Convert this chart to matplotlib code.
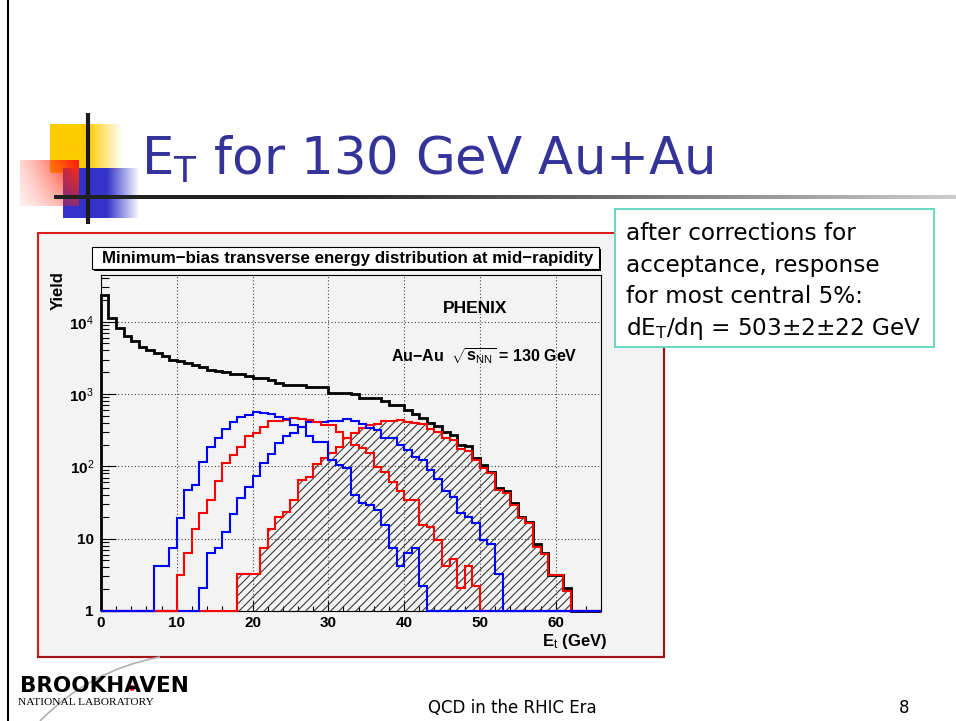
import numpy as np
import matplotlib.pyplot as plt
from matplotlib.patches import Rectangle, Circle, PathPatch
from matplotlib.path import Path
from matplotlib.ticker import MultipleLocator, LogLocator, NullFormatter, FixedLocator

# 1 GeV bins, 0..66 GeV
et_edges = np.arange(0, 67)

total_yield = [23600, 11300, 8200, 6400, 5350, 4450, 4000, 3700, 3350, 3000,
               2830, 2660, 2500, 2360, 2170, 2060, 2000, 1870, 1870, 1770,
               1650, 1650, 1550, 1410, 1330, 1330, 1330, 1240, 1240, 1240,
               1040, 1040, 1040, 1000, 880, 870, 870, 790, 705, 700,
               600, 530, 465, 395, 365, 300, 271, 195, 190, 132,
               104, 84, 50, 46, 31, 19.7, 17, 8.4, 6.3, 3.1,
               3.1, 2.1]

blue_a = [0] * 7 + [4.2, 4.2, 7.3, 19, 47, 56, 114, 187, 249, 325,
                    406, 476, 512, 558, 541, 530, 485, 447, 373, 353,
                    262, 219, 219, 122, 104, 95, 40, 31, 29, 25,
                    15.4, 7.5, 4.2, 6.4, 7.3, 2.2]

red_a = [0] * 10 + [3.1, 6.3, 13.4, 22.8, 34, 63, 110, 143, 187, 262,
                    286, 353, 423, 427, 440, 461, 447, 437, 414, 373,
                    373, 295, 250, 200, 177, 151, 99, 84, 61, 45,
                    34, 34, 15.4, 14.6, 9.6, 4.2, 5.2, 2.05, 4.2, 2.2]

blue_b = [0] * 13 + [2.1, 6.3, 7.3, 12.5, 21.7, 36, 51,
                     73, 112, 148, 208, 262, 290, 350, 414, 414, 414,
                     427, 427, 447, 420, 385, 335, 316, 244, 244, 197,
                     168, 136, 122, 88, 67, 46, 38, 22.8, 20, 16.6,
                     9.6, 8.4, 3.2]

central = [0] * 18 + [3.2, 3.2,
                      3.2, 7.4, 13.4, 20, 23.5, 34, 65, 71, 107, 131,
                      153, 183, 244, 292, 336, 373, 385, 427, 430, 437,
                      410, 393, 385, 330, 295, 244, 231, 172, 165, 122,
                      94, 80, 47, 43, 29, 19, 16.3, 7.7, 6.1, 3.1,
                      3.1, 1.9]

y_ticks = [1, 10, 100, 1000, 10000]
y_labels = ['1', '10', r'$10^{\mathsf{2}}$', r'$10^{\mathsf{3}}$', r'$10^{\mathsf{4}}$']
x_ticks = [0, 10, 20, 30, 40, 50, 60]

note_lines = ['after corrections for', 'acceptance, response',
              'for most central 5%:', r'dE$_{\mathrm{T}}$/dη = 503±2±22 GeV']


def pad(v, n=66):
    return np.clip(np.array(v + [0] * (n - len(v)), dtype=float), 1, None)


plt.rcParams['mathtext.fontset'] = 'custom'
plt.rcParams['mathtext.rm'] = 'Liberation Sans:bold'
plt.rcParams['mathtext.bf'] = 'Liberation Sans:bold'
plt.rcParams['mathtext.it'] = 'Liberation Sans:italic:bold'
plt.rcParams['mathtext.sf'] = 'Liberation Sans'
plt.rcParams['hatch.linewidth'] = 0.8

W, H = 956, 721
fig = plt.figure(figsize=(W / 100, H / 100), dpi=100)


def fx(x, y):
    return x / W, 1 - y / H


# slide background, pixel coordinates
bg = fig.add_axes([0, 0, 1, 1])
bg.set_autoscale_on(False)
bg.set_xlim(0, W)
bg.set_ylim(H, 0)
bg.axis('off')


def gradient(x0, x1, y0, y1, rgb, alpha, z):
    img = np.zeros(alpha.shape + (4,))
    img[..., :3] = rgb
    img[..., 3] = alpha
    bg.imshow(img, extent=(x0, x1, y1, y0), origin='upper', aspect='auto',
              interpolation='bilinear', zorder=z)


# title decoration squares
u = np.linspace(0, 1, 80)
yel = np.tile(np.clip((1 - u) / 0.48, 0, 1), (10, 1))
gradient(50, 123, 124, 173, (1.0, 0.8, 0.0), yel, 1)
blu = np.tile(np.clip((1 - u) / 0.43, 0, 1), (10, 1))
gradient(63, 140, 168, 218, (0.2, 0.2, 0.8), blu, 2)
gx, gy = np.meshgrid(np.linspace(0, 1, 60), np.linspace(0, 1, 50))
red_alpha = np.clip(0.08 + 0.9 * gx ** 1.3 * (1 - 0.55 * gy) + 0.12 * (1 - gy), 0, 1)
gradient(20, 79, 160, 206, (1.0, 0.15, 0.05), red_alpha, 3)

bg.plot([88, 88], [113, 224], color='#1a1a1a', lw=3, zorder=5, solid_capstyle='butt')
line_shade = np.linspace(0, 1, 200)
line_rgb = np.zeros((1, 200, 3))
line_rgb[0, :, :] = (0.13 + 0.67 * np.clip((line_shade - 0.3) / 0.7, 0, 1))[:, None]
bg.imshow(line_rgb, extent=(54, 956, 199, 195.5), aspect='auto', zorder=5)

# slide border
bg.plot([8, 8], [0, H], color='black', lw=1.5, zorder=5)

# title
fig.text(*fx(141, 175), r'E$_{\mathrm{T}}$ for 130 GeV Au+Au', fontsize=37,
         color='#333399', family='DejaVu Sans', math_fontfamily='dejavusans',
         va='baseline', ha='left')

# canvas
bg.add_patch(Rectangle((38, 233), 626, 424, facecolor='#f3f3f3',
                       edgecolor='#dd1a1a', lw=1.5, zorder=4))
bg.plot([664, 664, 38], [233, 657, 657], color='#a51010', lw=1.5, zorder=4)

# histogram title box with shadow
bg.add_patch(Rectangle((94, 249), 507, 22, facecolor='black', zorder=5))
bg.add_patch(Rectangle((92, 247), 507, 22, facecolor='white',
                       edgecolor='black', lw=0.8, zorder=6))
fig.text(*fx(348, 258), 'Minimum−bias transverse energy distribution at mid−rapidity',
         fontsize=12.2, fontweight='bold', family='Liberation Sans',
         ha='center', va='center')

# annotation box
bg.add_patch(Rectangle((615, 209), 319, 138, facecolor='white',
                       edgecolor='#5ad8bc', lw=1.3, zorder=8))
for i, line in enumerate(note_lines):
    fig.text(*fx(626, 240 + i * 31.7), line, fontsize=16.7, family='DejaVu Sans',
             math_fontfamily='dejavusans', va='baseline', ha='left')

# histogram frame
ax = fig.add_axes([100.9 / W, 1 - 610.9 / H, 500.3 / W, 335.9 / H])
ax.set_facecolor('#f3f3f3')
ax.set_yscale('log')
ax.set_xlim(0, 66)
ax.set_ylim(1, 4.43e4)

ax.stairs(pad(central), et_edges, baseline=1, fill=True, facecolor='none',
          edgecolor='#3a3a3a', hatch='////', lw=0, zorder=2)
ax.stairs(pad(total_yield), et_edges, baseline=1, color='black', lw=2.0,
          zorder=3, clip_on=False)
ax.stairs(pad(central), et_edges, baseline=1, color='#ff0000', lw=1.5,
          zorder=4, clip_on=False)
ax.stairs(pad(blue_b), et_edges, baseline=1, color='#0000ff', lw=1.5,
          zorder=5, clip_on=False)
ax.stairs(pad(red_a), et_edges, baseline=1, color='#ff0000', lw=1.5,
          zorder=6, clip_on=False)
ax.stairs(pad(blue_a), et_edges, baseline=1, color='#0000ff', lw=1.5,
          zorder=7, clip_on=False)

ax.xaxis.set_major_locator(FixedLocator(x_ticks))
ax.xaxis.set_minor_locator(MultipleLocator(2))
ax.yaxis.set_major_locator(FixedLocator(y_ticks))
ax.yaxis.set_minor_locator(LogLocator(base=10, subs=np.arange(2, 10)))
ax.yaxis.set_minor_formatter(NullFormatter())
ax.set_xticklabels([str(t) for t in x_ticks])
ax.set_yticklabels(y_labels)
ax.tick_params(which='both', direction='in', top=False, right=False, color='black')
ax.tick_params(axis='x', which='major', length=7, width=0.8, pad=4)
ax.tick_params(axis='x', which='minor', length=3.6, width=0.8)
ax.tick_params(axis='y', which='major', length=11, width=0.8, pad=5)
ax.tick_params(axis='y', which='minor', length=5.5, width=0.8)
for lab in ax.get_xticklabels() + ax.get_yticklabels():
    lab.set_fontfamily('Liberation Sans')
    lab.set_fontweight('bold')
    lab.set_fontsize(11)
ax.grid(True, which='major', color='#444444', linestyle=(0, (1, 2)), lw=0.8)
for s in ax.spines.values():
    s.set_linewidth(0.8)
    s.set_color('black')

fig.text(*fx(58, 271), 'Yield', rotation=90, fontsize=12, fontweight='bold',
         family='Liberation Sans', ha='center', va='top')
fig.text(*fx(607, 646), r'$\mathrm{E}_{\mathsf{t}}$ (GeV)', fontsize=12,
         fontweight='bold', family='Liberation Sans', ha='right', va='baseline')
fig.text(*fx(475, 313), 'PHENIX', fontsize=12.5, fontweight='bold',
         family='Liberation Sans', ha='center', va='baseline')
fig.text(*fx(391, 361), r'Au−Au  $\sqrt{\mathrm{s}_{\mathsf{NN}}}$ = 130 GeV',
         fontsize=11.5, fontweight='bold', family='Liberation Sans',
         ha='left', va='baseline')

# footer
swoosh = Path([(40, 721), (90, 670), (160, 657)], [Path.MOVETO, Path.CURVE3, Path.CURVE3])
bg.add_patch(PathPatch(swoosh, facecolor='none', edgecolor='#b0b0b0', lw=1.2, zorder=5))
fig.text(*fx(20, 692), 'BROOKHAVEN', fontsize=15.5, fontweight='heavy',
         family='DejaVu Sans', ha='left', va='baseline')
bg.add_patch(Circle((132, 688), 2.2, color='#e00000', zorder=6))
fig.text(*fx(18, 705), 'NATIONAL LABORATORY', fontsize=8.2,
         family='Liberation Serif', ha='left', va='baseline')
fig.text(*fx(512, 713), 'QCD in the RHIC Era', fontsize=12, family='DejaVu Sans',
         ha='center', va='baseline')
fig.text(*fx(904, 713), '8', fontsize=12, family='DejaVu Sans',
         ha='center', va='baseline')

fig.savefig('out.png', dpi=100)
